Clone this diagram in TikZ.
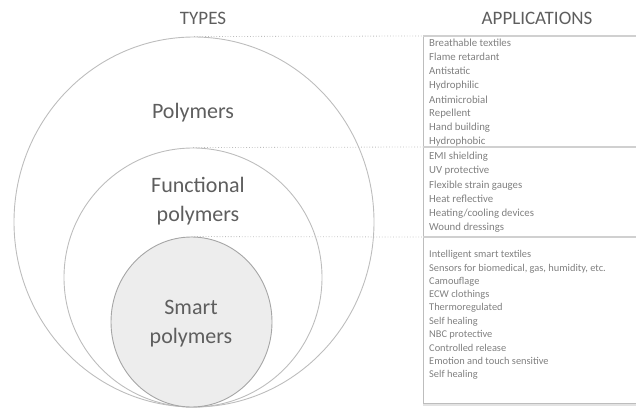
\documentclass[tikz,border=0pt]{standalone}
\usepackage{fontspec}
\setmainfont{Carlito}
\usetikzlibrary{shapes.geometric}
\definecolor{txt}{HTML}{5E5E5E}
\definecolor{smalltxt}{HTML}{808080}
\definecolor{ring}{HTML}{BDBDBD}
\definecolor{ringdark}{HTML}{A6A6A6}
\definecolor{fillsmart}{HTML}{EDEDED}
\definecolor{sep}{HTML}{D0D0D0}
\tikzset{
  ringshape/.style={ellipse, draw=ring, line width=0.9pt, inner sep=0pt},
  heading/.style={text=txt, font=\fontsize{19}{22}\selectfont},
  biglabel/.style={text=txt, font=\fontsize{22}{29}\selectfont, align=center},
  item/.style={text=smalltxt, font=\fontsize{10.8}{13}\selectfont, anchor=west, inner sep=0pt},
  itemsmall/.style={item, font=\fontsize{10.4}{13}\selectfont},
  dotline/.style={draw=ring, line width=0.8pt, dotted},
  sepline/.style={draw=sep, line width=1.6pt},
  boxedge/.style={draw=ring, line width=0.8pt}
}
\begin{document}
\begin{tikzpicture}[x={(1pt,0)}, y={(0,-1pt)}]
\useasboundingbox (0,0) rectangle (636,409);
% headings
\node[heading] (types) at (203,18) {TYPES};
\node[heading] (apps) at (537,18) {APPLICATIONS};
% circles
\node[ringshape, minimum width=360pt, minimum height=370pt] (outer) at (194,222) {};
\node[ringshape, minimum width=258pt, minimum height=259pt] (middle) at (193,277.5) {};
\node[ringshape, draw=ringdark, fill=fillsmart, minimum width=161pt, minimum height=170pt] (inner) at (191.5,322) {};
% labels
\node[biglabel] (lpoly) at (193,113) {Polymers};
\node[biglabel] (lfunc) at (198,201) {Functional\\polymers};
\node[biglabel] (lsmart) at (191,324) {Smart\\polymers};
% box coordinates
\coordinate (b1) at (423,36);
\coordinate (b2) at (423,147);
\coordinate (b3) at (423,237);
\coordinate (b4) at (423,403);
\coordinate (r1) at (636,36);
\coordinate (r2) at (636,147);
\coordinate (r3) at (636,237);
\coordinate (r4) at (636,403);
% dotted connectors
\draw[dotline] (outer.north) -- (b1);
\draw[dotline] (middle.north) -- (b2);
\draw[dotline] (inner.north) -- (b3);
% box
\draw[boxedge] (b1) -- (b4);
\draw[draw=sep!60, line width=2pt] ([yshift=-1.5pt]b4) -- ([yshift=-1.5pt]r4);
\draw[boxedge] (b4) -- (r4);
\draw[sepline] (b1) -- (r1);
\draw[sepline] (b2) -- (r2);
\draw[sepline] (b3) -- (r3);
% lists
\foreach \t [count=\i from 0] in {Breathable textiles, Flame retardant, Antistatic, Hydrophilic, Antimicrobial, Repellent, Hand building, Hydrophobic}
  \node[item] (a\i) at (429,{43+14.1*\i}) {\t};
\foreach \t [count=\i from 0] in {EMI shielding, UV protective, Flexible strain gauges, Heat reflective, Heating/cooling devices, Wound dressings}
  \node[item] (f\i) at (429,{157+14.1*\i}) {\t};
\foreach \t [count=\i from 0] in {Intelligent smart textiles, {Sensors for biomedical, gas, humidity, etc.}, Camouflage, ECW clothings, Thermoregulated, Self healing, NBC protective, Controlled release, Emotion and touch sensitive, Self healing}
  \node[itemsmall] (s\i) at (429,{255+13.3*\i}) {\t};
\end{tikzpicture}
\end{document}
